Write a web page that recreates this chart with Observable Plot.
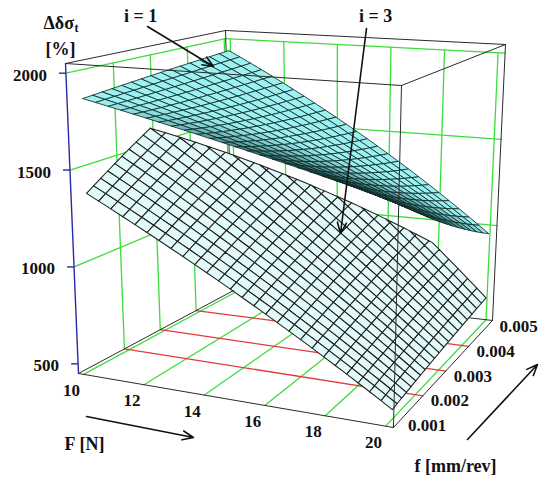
<!DOCTYPE html>
<html>
<head>
<meta charset="utf-8">
<script src="https://cdn.jsdelivr.net/npm/d3@7"></script>
<script src="https://cdn.jsdelivr.net/npm/@observablehq/plot@0.6"></script>
<style>
  html, body { margin: 0; padding: 0; background: #ffffff; }
  #chart svg { display: block; }
</style>
</head>
<body>
<div id="chart"></div>
<script>
// ---------------- data ----------------
const F_nodes = [10, 15, 20];            // F [N]
const f_nodes = [0.001, 0.003, 0.005];   // f [mm/rev]
// Δδσt [%] at the nodes: rows = F_nodes, columns = f_nodes
const z_i1 = [[1858, 1894, 1930], [1669, 1556, 1470], [1480, 1217, 954]];
const z_i3 = [[1364, 1628, 1893], [930, 1084, 1238], [496, 540, 583]];
// visible edge of the i = 3 surface (F, f) where it disappears
const i3_edge_F = [10, 17.8];
const i3_edge_f = [0.0028, 0.005];
const F_ticks = [10, 12, 14, 16, 18, 20];
const f_ticks = [0.001, 0.002, 0.003, 0.004, 0.005];
const z_ticks = [500, 1000, 1500, 2000];
const f_floor = [0.002, 0.003, 0.004];   // red floor lines
const z_walls = [1000, 1500, 2000];      // green wall lines
const meshCells = {i1: [25, 15], i3: [26, 20]};

// ---------------- 3-D frame (layout) ----------------
const W = 550, H = 484;
const BOX = {F: [9.833, 20.261], f: [0.000719, 0.005043], z: [450, 2050]};
const FRAME = {
  c000: [78, 373], c100: [393, 427], c010: [233, 290], c110: [492, 320],
  c001: [65, 63],  c101: [401, 85],  c011: [225, 30],  c111: [505, 44]
};
const lerp = (a, b, t) => [a[0] + (b[0] - a[0]) * t, a[1] + (b[1] - a[1]) * t];
function norm(F, f, z) {
  return [(F - BOX.F[0]) / (BOX.F[1] - BOX.F[0]),
          (f - BOX.f[0]) / (BOX.f[1] - BOX.f[0]),
          (z - BOX.z[0]) / (BOX.z[1] - BOX.z[0])];
}
function projN(u, v, w) {
  const C = FRAME;
  const b0 = lerp(lerp(C.c000, C.c100, u), lerp(C.c010, C.c110, u), v);
  const b1 = lerp(lerp(C.c001, C.c101, u), lerp(C.c011, C.c111, u), v);
  return lerp(b0, b1, w);
}
const proj = (F, f, z) => projN(...norm(F, f, z));
const depthOf = ([u, v, w]) => 178 * v - 116 * u - 144 * w;

// model surface through the nodes
const lag = s => [2 * (s - 0.5) * (s - 1), -4 * s * (s - 1), 2 * s * (s - 0.5)];
function surfZ(Z, F, f) {
  const a = lag((F - F_nodes[0]) / (F_nodes[2] - F_nodes[0]));
  const b = lag((f - f_nodes[0]) / (f_nodes[2] - f_nodes[0]));
  let z = 0;
  for (let i = 0; i < 3; i++) for (let j = 0; j < 3; j++) z += Z[i][j] * a[i] * b[j];
  return z;
}

// half-plane clip in (F, f): keep side g >= 0
function clipPoly(poly, g) {
  if (!g) return poly;
  const out = [];
  for (let k = 0; k < poly.length; k++) {
    const A = poly[k], B = poly[(k + 1) % poly.length];
    const ga = g(A), gb = g(B);
    if (ga >= 0) out.push(A);
    if ((ga >= 0) !== (gb >= 0)) {
      const t = ga / (ga - gb);
      out.push([A[0] + (B[0] - A[0]) * t, A[1] + (B[1] - A[1]) * t]);
    }
  }
  return out;
}

function buildCells(Z, [nF, nf], name, shade, g) {
  const cells = [];
  const F0 = F_nodes[0], F1 = F_nodes[2], f0 = f_nodes[0], f1 = f_nodes[2];
  for (let i = 0; i < nF; i++) {
    for (let j = 0; j < nf; j++) {
      const Fa = F0 + (F1 - F0) * i / nF, Fb = F0 + (F1 - F0) * (i + 1) / nF;
      const fa = f0 + (f1 - f0) * j / nf, fb = f0 + (f1 - f0) * (j + 1) / nf;
      const full = [[Fa, fa], [Fb, fa], [Fb, fb], [Fa, fb]];
      const poly = clipPoly(full, g);
      if (poly.length < 3) continue;
      const n3 = poly.map(([F, f]) => norm(F, f, surfZ(Z, F, f)));
      const pts = n3.map(p => projN(...p));
      const nf3 = full.map(([F, f]) => norm(F, f, surfZ(Z, F, f)));
      const fp = nf3.map(p => projN(...p));
      const depth = d3.mean(nf3, depthOf);
      const e1 = [fp[1][0] - fp[0][0], fp[1][1] - fp[0][1]];
      const e2 = [fp[3][0] - fp[0][0], fp[3][1] - fp[0][1]];
      const cr = Math.abs(e1[0] * e2[1] - e1[1] * e2[0]) /
                 (Math.hypot(...e1) * Math.hypot(...e2) + 1e-9);
      cells.push({id: `${name}-${i}-${j}`, pts, depth, fc: shade(cr)});
    }
  }
  cells.sort((a, b) => b.depth - a.depth);
  const rows = [];
  for (const c of cells) {
    for (const p of [...c.pts, c.pts[0]]) rows.push({x: p[0], y: p[1], id: c.id, fc: c.fc});
  }
  return rows;
}

const shade1 = d3.interpolateRgb("#2a6e69", "#9cf1f1");
const rowsI1 = buildCells(z_i1, meshCells.i1, "i1",
  cr => shade1(Math.max(0, Math.min(1, (cr - 0.24) / 0.34))));
const gI3 = ([F, f]) => {
  const fe = i3_edge_f[0] + (i3_edge_f[1] - i3_edge_f[0]) * (F - i3_edge_F[0]) / (i3_edge_F[1] - i3_edge_F[0]);
  return (fe - f) / 0.004;
};
const rowsI3 = buildCells(z_i3, meshCells.i3, "i3", () => "#e2fafa", gI3);

// ---------------- frame lines ----------------
const zTop = z_walls[z_walls.length - 1];
function seg(id, a, b, color) {
  const p = proj(...a), q = proj(...b);
  return [{x: p[0], y: p[1], id, c: color}, {x: q[0], y: q[1], id, c: color}];
}
const green = "#3ddc3d", red = "#e23a3a";
let grid = [];
F_ticks.forEach(F => grid.push(...seg("fl" + F, [F, BOX.f[0], BOX.z[0]], [F, BOX.f[1], BOX.z[0]], green)));
F_ticks.forEach(F => grid.push(...seg("bw" + F, [F, BOX.f[1], BOX.z[0]], [F, BOX.f[1], zTop], green)));
f_ticks.slice(1).forEach(f => grid.push(...seg("lw" + f, [BOX.F[0], f, BOX.z[0]], [BOX.F[0], f, zTop], green)));
z_walls.forEach(z => {
  grid.push(...seg("lh" + z, [BOX.F[0], BOX.f[0], z], [BOX.F[0], BOX.f[1], z], green));
  grid.push(...seg("bh" + z, [BOX.F[0], BOX.f[1], z], [BOX.F[1], BOX.f[1], z], green));
});
f_floor.forEach(f => grid.push(...seg("rd" + f, [BOX.F[0], f, BOX.z[0]], [BOX.F[1], f, BOX.z[0]], red)));

const [Fa, Fb] = BOX.F, [fa, fb] = BOX.f, [za, zb] = BOX.z;
const edgeCol = "#2b2b2b";
const backEdges = [
  ...seg("e1", [Fa, fb, za], [Fa, fb, zb], edgeCol),
  ...seg("e2", [Fa, fb, za], [Fb, fb, za], edgeCol)
];
const frontEdges = [
  ...seg("t1", [Fa, fa, zb], [Fb, fa, zb], edgeCol),
  ...seg("t2", [Fb, fa, zb], [Fb, fb, zb], edgeCol),
  ...seg("t3", [Fb, fb, zb], [Fa, fb, zb], edgeCol),
  ...seg("t4", [Fa, fb, zb], [Fa, fa, zb], edgeCol),
  ...seg("v1", [Fb, fa, za], [Fb, fa, zb], edgeCol),
  ...seg("v2", [Fb, fb, za], [Fb, fb, zb], edgeCol),
  ...seg("b1", [Fa, fa, za], [Fb, fa, za], edgeCol),
  ...seg("b2", [Fb, fa, za], [Fb, fb, za], edgeCol),
  ...seg("b3", [Fa, fa, za], [Fa, fb, za], edgeCol)
];
const zAxis = seg("za", [Fa, fa, za], [Fa, fa, zb], "#2a2aa8");
const zTickRows = z_ticks.map(z => { const p = proj(Fa, fa, z); return {x1: p[0] - 7, x2: p[0], y: p[1], z}; });
const FLabels = F_ticks.map(F => { const p = proj(F, fa, za); return {x: p[0], y: p[1], t: String(F)}; });
const fLabels = f_ticks.map(f => { const p = proj(Fb, f, za); return {x: p[0], y: p[1], t: f.toFixed(3)}; });
const zLabels = z_ticks.map(z => { const p = proj(Fa, fa, z); return {x: p[0], y: p[1], t: String(z)}; });

// ---------------- annotations (layout, px) ----------------
const ANN = {
  arrows: [
    {x1: 147, y1: 26, x2: 213, y2: 66},
    {x1: 366, y1: 28, x2: 340, y2: 233},
    {x1: 86, y1: 416, x2: 193, y2: 437},
    {x1: 467, y1: 439, x2: 537, y2: 364}
  ],
  texts: [
    {x: 140, y: 16, t: "i = 1", s: 18, a: "middle"},
    {x: 375, y: 16, t: "i = 3", s: 18, a: "middle"},
    {x: 43, y: 23, t: "Δδσ", s: 18, a: "start"},
    {x: 74, y: 28, t: "t", s: 12, a: "start"},
    {x: 60, y: 49, t: "[%]", s: 18, a: "middle"},
    {x: 84, y: 444, t: "F [N]", s: 18, a: "middle"},
    {x: 455, y: 466, t: "f [mm/rev]", s: 18, a: "middle"}
  ]
};

const font = "Liberation Serif";
const chart = Plot.plot({
  width: W, height: H, margin: 0,
  style: {background: "#ffffff", overflow: "visible"},
  x: {domain: [0, W], range: [0, W], axis: null},
  y: {domain: [0, H], range: [0, H], axis: null},
  color: {type: "identity"},
  marks: [
    Plot.line(grid, {x: "x", y: "y", z: "id", stroke: "c", strokeWidth: 1.3}),
    Plot.line(backEdges, {x: "x", y: "y", z: "id", stroke: "c", strokeWidth: 1}),
    Plot.line(rowsI3, {x: "x", y: "y", z: "id", fill: "fc", stroke: "#1e1e1e", strokeWidth: 1.05, strokeLinejoin: "round"}),
    Plot.line(rowsI1, {x: "x", y: "y", z: "id", fill: "fc", stroke: "#112a2a", strokeWidth: 0.85, strokeLinejoin: "round"}),
    Plot.line(frontEdges, {x: "x", y: "y", z: "id", stroke: "c", strokeWidth: 1}),
    Plot.line(zAxis, {x: "x", y: "y", z: "id", stroke: "c", strokeWidth: 1.4}),
    Plot.link(zTickRows, {x1: "x1", x2: "x2", y1: "y", y2: "y", stroke: "#2a2aa8", strokeWidth: 1.4}),
    Plot.text(zLabels, {x: "x", y: "y", text: "t", dx: -19, dy: 2, textAnchor: "end", fontSize: 17, fontWeight: "bold", fontFamily: font, fill: "#111"}),
    Plot.text(FLabels, {x: "x", y: "y", text: "t", dx: -12, dy: 16, textAnchor: "middle", fontSize: 17, fontWeight: "bold", fontFamily: font, fill: "#111"}),
    Plot.text(fLabels, {x: "x", y: "y", text: "t", dx: 8, dy: 5, textAnchor: "start", fontSize: 17, fontWeight: "bold", fontFamily: font, fill: "#111"}),
    Plot.arrow(ANN.arrows, {x1: "x1", y1: "y1", x2: "x2", y2: "y2", stroke: "#111", strokeWidth: 1.6, headLength: 11, headAngle: 45}),
    ...ANN.texts.map(d => Plot.text([d], {x: "x", y: "y", text: "t", fontSize: d.s, textAnchor: d.a, fontWeight: "bold", fontFamily: font, fill: "#111"}))
  ]
});
document.getElementById("chart").appendChild(chart);
</script>
</body>
</html>
